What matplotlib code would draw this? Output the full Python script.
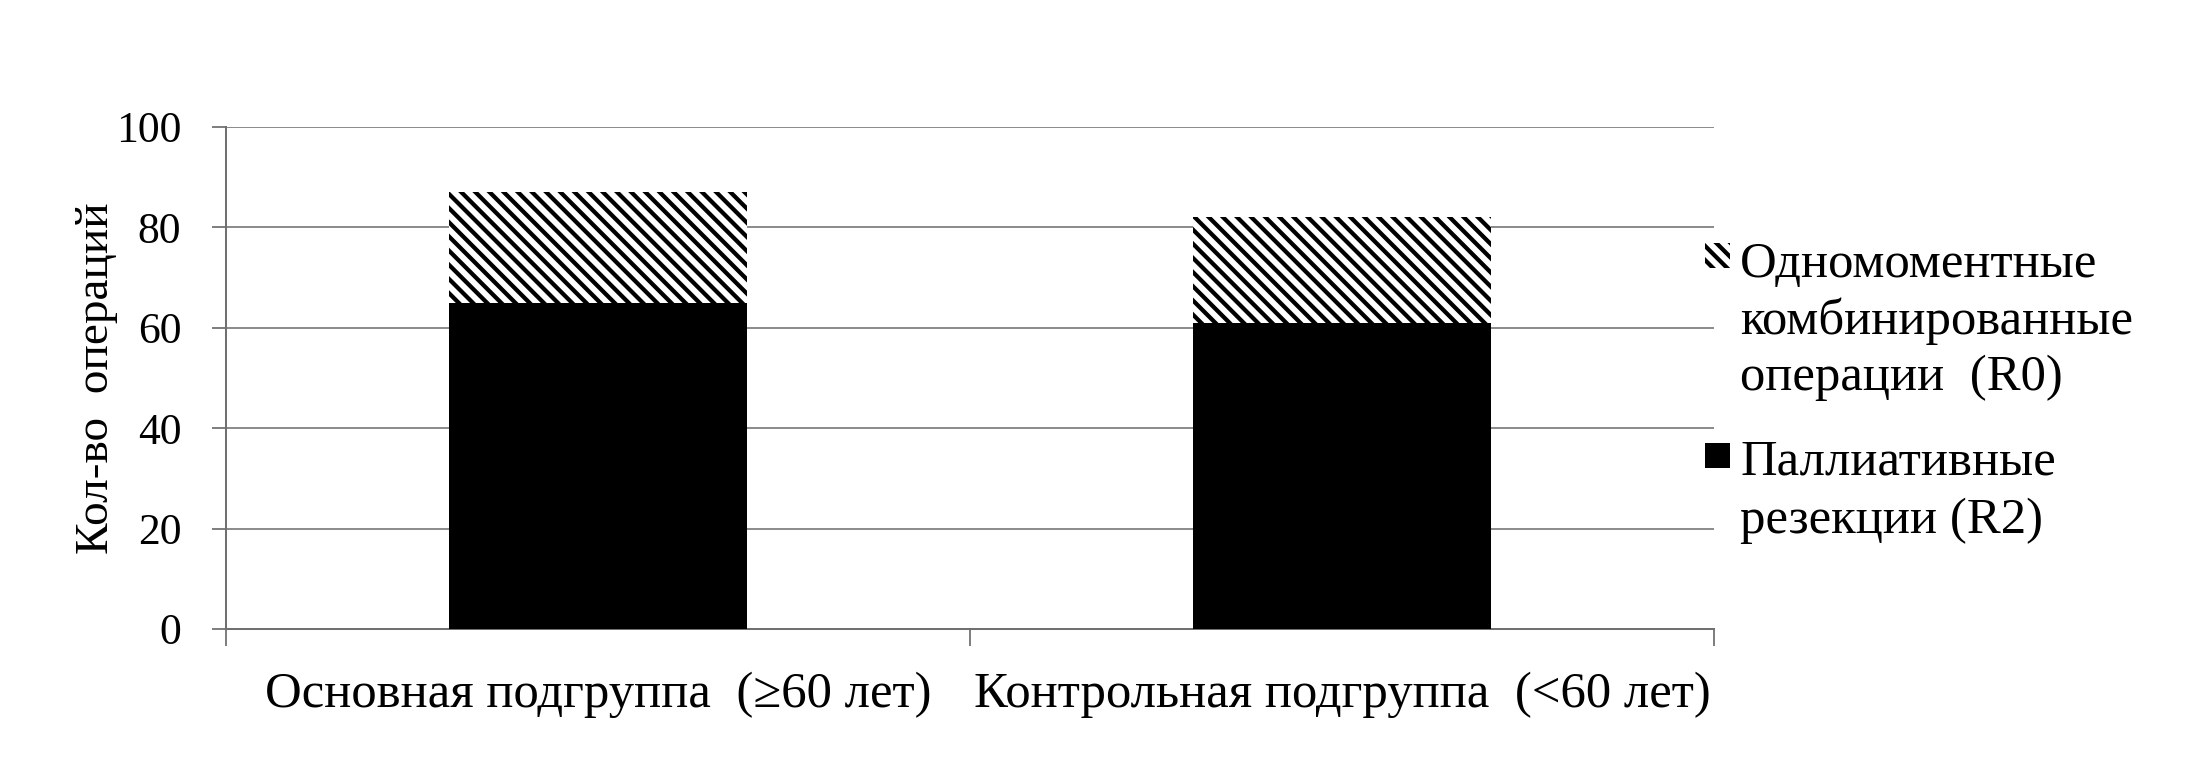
import matplotlib
matplotlib.use("Agg")
import matplotlib.pyplot as plt
from matplotlib.patches import Rectangle

categories = ["Основная подгруппа  (≥60 лет)", "Контрольная подгруппа  (<60 лет)"]
palliative_r2 = [65, 61]
combined_r0 = [22, 21]
legend_r0 = ["Одномоментные", "комбинированные", "операции  (R0)"]
legend_r2 = ["Паллиативные", "резекции (R2)"]
y_ticks = [0, 20, 40, 60, 80, 100]

DPI = 85
W, H = 2212, 767

plt.rcParams["font.family"] = ["Liberation Serif", "DejaVu Serif"]
plt.rcParams["hatch.linewidth"] = 3.6

fig = plt.figure(figsize=(W / DPI, H / DPI), dpi=DPI)
ax = fig.add_axes([226 / W, 1 - 629 / H, (1714 - 226) / W, (629 - 127) / H])

x = list(range(len(categories)))
ax.bar(x, palliative_r2, width=0.4, color="black", linewidth=0, zorder=3)
ax.bar(x, combined_r0, width=0.4, bottom=palliative_r2, facecolor="white",
       edgecolor="black", hatch="\\\\", linewidth=0, zorder=3)

ax.set_xlim(-0.5, len(categories) - 0.5)
ax.set_ylim(0, 100)
ax.set_yticks(y_ticks)
ax.yaxis.grid(True, color="#7f7f7f", linewidth=1.5, zorder=0)

ax.set_xticks(x)
ax.set_xticklabels(categories, fontsize=43)
ax.set_xticks([i - 0.5 for i in range(len(categories) + 1)], minor=True)
ax.tick_params(axis="x", which="major", length=0, pad=36)
ax.tick_params(axis="x", which="minor", length=14, width=1.5, color="#707070")
ax.tick_params(axis="y", labelsize=37, length=12, width=1.5, color="#707070", pad=26)
ax.set_ylabel("Кол-во  операций", fontsize=40, labelpad=-2)

for side in ("top", "right"):
    ax.spines[side].set_visible(False)
for side in ("left", "bottom"):
    ax.spines[side].set_color("#707070")
    ax.spines[side].set_linewidth(1.7)

# legend drawn by hand so the marker sits on the first line
tx = 1740 / W
for label, yb in zip(legend_r0, [277, 334, 390]):
    fig.text(tx, 1 - yb / H, label, fontsize=43, va="baseline", ha="left")
for label, yb in zip(legend_r2, [475, 533]):
    fig.text(tx, 1 - yb / H, label, fontsize=43, va="baseline", ha="left")

fig.add_artist(Rectangle((1705 / W, 1 - 268 / H), 25 / W, 25 / H, transform=fig.transFigure,
                         facecolor="white", edgecolor="black", hatch="\\\\", linewidth=0))
fig.add_artist(Rectangle((1705 / W, 1 - 468 / H), 25 / W, 25 / H, transform=fig.transFigure,
                         facecolor="black", linewidth=0))

fig.savefig("out.png", dpi=DPI)
